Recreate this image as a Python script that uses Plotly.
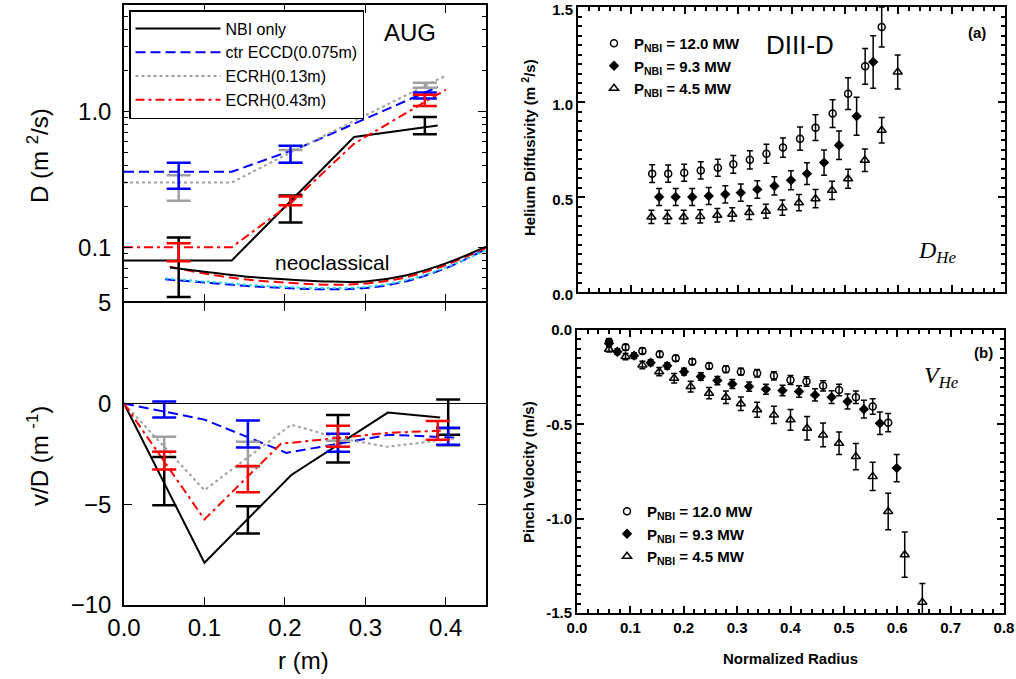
import plotly.graph_objects as go
import numpy as np

W, H = 1016, 679

# ---------------- AUG: D profiles (top-left, log axis) ----------------
nbi_r = [0.0, 0.134, 0.286, 0.39]
nbi_D = [0.08, 0.08, 0.65, 0.79]
eccd_r = [0.0, 0.134, 0.221, 0.39]
eccd_D = [0.36, 0.36, 0.55, 1.52]
ecrh13_r = [0.0, 0.134, 0.221, 0.40]
ecrh13_D = [0.30, 0.30, 0.55, 1.84]
ecrh43_r = [0.0, 0.134, 0.207, 0.286, 0.40]
ecrh43_D = [0.10, 0.10, 0.21, 0.58, 1.45]

# error bars on D (lower / upper bounds)
errD_r = [0.068, 0.207, 0.374]
nbi_Dlo = [0.043, 0.152, 0.68]
nbi_Dhi = [0.118, 0.241, 0.91]
eccd_Dlo = [0.27, 0.42, 1.25]
eccd_Dhi = [0.42, 0.56, 1.38]
ecrh13_Dlo = [0.22, 0.42, 1.50]
ecrh13_Dhi = [0.34, 0.52, 1.63]
ecrh43_Dlo = [0.079, 0.204, 1.10]
ecrh43_Dhi = [0.107, 0.237, 1.33]

# neoclassical D
neo_r1 = [0.057, 0.1, 0.15, 0.2, 0.25, 0.3, 0.35, 0.4, 0.45]
neo_r2 = [0.051, 0.1, 0.15, 0.2, 0.25, 0.3, 0.35, 0.4, 0.45]
neo_black = [0.071, 0.066, 0.061, 0.058, 0.056, 0.056, 0.062, 0.076, 0.101]
neo_red = [0.072, 0.064, 0.058, 0.055, 0.053, 0.054, 0.060, 0.074, 0.099]
neo_blue = [0.058, 0.055, 0.052, 0.050, 0.049, 0.050, 0.056, 0.070, 0.097]
neo_cyan = [0.059, 0.056, 0.053, 0.051, 0.050, 0.051, 0.057, 0.071, 0.095]

# ---------------- AUG: v/D profiles (bottom-left) ----------------
nbi_vr = [0.0, 0.1, 0.208, 0.328, 0.393]
nbi_v = [0.0, -7.9, -3.55, -0.45, -0.7]
eccd_vr = [0.0, 0.1, 0.202, 0.265, 0.33, 0.415]
eccd_v = [0.0, -0.8, -2.45, -2.0, -1.55, -1.7]
ecrh13_vr = [0.0, 0.1, 0.208, 0.265, 0.327, 0.41]
ecrh13_v = [0.0, -4.3, -1.05, -1.7, -2.15, -1.75]
ecrh43_vr = [0.0, 0.1, 0.195, 0.33, 0.395]
ecrh43_v = [0.0, -5.75, -2.0, -1.45, -1.35]

errv_r = [0.05, 0.154, 0.266, 0.403]
errv_r_red = [0.05, 0.154, 0.266, 0.39]
nbi_vlo = [-5.05, -6.45, -2.93, -1.55]
nbi_vhi = [-2.65, -5.1, -0.57, 0.2]
eccd_vlo = [-0.7, -2.18, -2.4, -2.05]
eccd_vhi = [0.1, -0.84, -1.5, -1.2]
ecrh13_vlo = [-2.4, -3.15, -2.15, -2.1]
ecrh13_vhi = [-1.65, -1.9, -1.85, -1.25]
ecrh43_vlo = [-3.27, -4.4, -2.15, -1.8]
ecrh43_vhi = [-2.4, -3.1, -1.1, -0.87]

# ---------------- DIII-D: helium diffusivity (top-right) ----------------
d12_x = [0.139, 0.169, 0.199, 0.230, 0.262, 0.291, 0.322, 0.353, 0.384, 0.416, 0.445, 0.477, 0.506, 0.538, 0.569]
d12_y = [0.623, 0.623, 0.628, 0.640, 0.654, 0.672, 0.696, 0.728, 0.760, 0.807, 0.865, 0.939, 1.044, 1.188, 1.395]
d12_e = [0.047, 0.045, 0.045, 0.045, 0.045, 0.047, 0.048, 0.05, 0.051, 0.061, 0.068, 0.073, 0.084, 0.094, 0.105]
d93_x = [0.152, 0.183, 0.214, 0.245, 0.276, 0.305, 0.336, 0.368, 0.399, 0.429, 0.461, 0.489, 0.522, 0.553]
d93_y = [0.50, 0.50, 0.50, 0.505, 0.514, 0.523, 0.540, 0.558, 0.588, 0.623, 0.681, 0.772, 0.925, 1.211]
d93_e = [0.045, 0.045, 0.045, 0.045, 0.045, 0.045, 0.046, 0.048, 0.05, 0.057, 0.066, 0.075, 0.1, 0.138]
d45_x = [0.1375, 0.1675, 0.198, 0.229, 0.261, 0.289, 0.321, 0.352, 0.383, 0.414, 0.445, 0.476, 0.506, 0.5375, 0.569, 0.599]
d45_y = [0.395, 0.395, 0.395, 0.398, 0.404, 0.409, 0.418, 0.425, 0.444, 0.470, 0.491, 0.535, 0.596, 0.693, 0.851, 1.158]
d45_e = [0.035, 0.035, 0.035, 0.035, 0.035, 0.035, 0.036, 0.037, 0.04, 0.043, 0.048, 0.048, 0.05, 0.059, 0.067, 0.09]

# ---------------- DIII-D: pinch velocity (bottom-right) ----------------
v12_x = [0.06, 0.091, 0.1225, 0.155, 0.185, 0.216, 0.2475, 0.279, 0.307, 0.3375, 0.369, 0.40, 0.43, 0.461, 0.491, 0.5225, 0.554, 0.583]
v12_y = [-0.062, -0.092, -0.111, -0.129, -0.150, -0.168, -0.191, -0.208, -0.221, -0.229, -0.243, -0.265, -0.273, -0.296, -0.318, -0.356, -0.406, -0.491]
v12_e = [0.015, 0.015, 0.015, 0.015, 0.015, 0.015, 0.015, 0.017, 0.018, 0.02, 0.022, 0.024, 0.025, 0.027, 0.03, 0.033, 0.041, 0.048]
v93_x = [0.06, 0.0756, 0.107, 0.138, 0.169, 0.2006, 0.232, 0.263, 0.291, 0.3225, 0.354, 0.385, 0.416, 0.446, 0.477, 0.5069, 0.5375, 0.5675, 0.599]
v93_y = [-0.071, -0.115, -0.136, -0.173, -0.190, -0.221, -0.247, -0.268, -0.286, -0.300, -0.314, -0.321, -0.326, -0.344, -0.356, -0.379, -0.420, -0.494, -0.732]
v93_e = [0.015, 0.015, 0.015, 0.015, 0.017, 0.018, 0.02, 0.022, 0.024, 0.025, 0.027, 0.028, 0.03, 0.032, 0.034, 0.04, 0.047, 0.06, 0.072]
v45_x = [0.06, 0.091, 0.1225, 0.154, 0.182, 0.213, 0.2475, 0.279, 0.307, 0.3375, 0.369, 0.40, 0.431, 0.461, 0.491, 0.5225, 0.554, 0.583, 0.614, 0.647]
v45_y = [-0.102, -0.141, -0.185, -0.221, -0.256, -0.300, -0.335, -0.356, -0.391, -0.423, -0.450, -0.476, -0.521, -0.556, -0.600, -0.671, -0.776, -0.962, -1.191, -1.443]
v45_e = [0.015, 0.017, 0.02, 0.022, 0.025, 0.028, 0.03, 0.033, 0.036, 0.04, 0.046, 0.055, 0.062, 0.063, 0.06, 0.07, 0.075, 0.097, 0.12, 0.1]

legend_names_aug = ["NBI only", "ctr ECCD(0.075m)", "ECRH(0.13m)", "ECRH(0.43m)"]
legend_names_d3d = ["P<sub>NBI</sub> = 12.0 MW", "P<sub>NBI</sub> = 9.3 MW", "P<sub>NBI</sub> = 4.5 MW"]

BLACK, BLUE, GRAY, RED, CYAN = "#000000", "#0000ff", "#a0a0a0", "#ff0000", "#22dde8"
DASH_B = "10px,5px"
DOT_G = "3px,3px"
DASHDOT_R = "9px,4px,3px,4px"

fig = go.Figure()

# ---- neoclassical
for r, d, c, dash in [(neo_r2, neo_blue, BLUE, DASH_B), (neo_r2, neo_cyan, CYAN, DOT_G),
                      (neo_r1, neo_red, RED, DASH_B), (neo_r1, neo_black, BLACK, "solid")]:
    fig.add_trace(go.Scatter(x=r, y=d, mode="lines", line=dict(color=c, width=2, dash=dash, shape="spline"),
                             showlegend=False, xaxis="x", yaxis="y", hoverinfo="skip"))

# ---- D curves (legend)
curves_D = [(nbi_r, nbi_D, BLACK, "solid"), (eccd_r, eccd_D, BLUE, DASH_B),
            (ecrh13_r, ecrh13_D, GRAY, DOT_G), (ecrh43_r, ecrh43_D, RED, DASHDOT_R)]
for (r, d, c, dash), nm in zip(curves_D, legend_names_aug):
    fig.add_trace(go.Scatter(x=r, y=d, mode="lines", name=nm, line=dict(color=c, width=2, dash=dash),
                             xaxis="x", yaxis="y", legend="legend"))

# ---- D error bars
for lo, hi, c in [(nbi_Dlo, nbi_Dhi, BLACK), (ecrh13_Dlo, ecrh13_Dhi, GRAY),
                  (eccd_Dlo, eccd_Dhi, BLUE), (ecrh43_Dlo, ecrh43_Dhi, RED)]:
    ctr = [np.sqrt(a * b) for a, b in zip(lo, hi)]
    fig.add_trace(go.Scatter(x=errD_r, y=ctr, mode="markers", marker=dict(size=1, color=c, opacity=0),
                             error_y=dict(type="data", symmetric=False,
                                          array=[h - m for h, m in zip(hi, ctr)],
                                          arrayminus=[m - l for l, m in zip(lo, ctr)],
                                          color=c, thickness=2.5, width=12),
                             showlegend=False, xaxis="x", yaxis="y", hoverinfo="skip"))

# ---- v/D curves
for r, v, c, dash in [(nbi_vr, nbi_v, BLACK, "solid"), (eccd_vr, eccd_v, BLUE, DASH_B),
                      (ecrh13_vr, ecrh13_v, GRAY, DOT_G), (ecrh43_vr, ecrh43_v, RED, DASHDOT_R)]:
    fig.add_trace(go.Scatter(x=r, y=v, mode="lines", line=dict(color=c, width=2, dash=dash),
                             showlegend=False, xaxis="x2", yaxis="y2"))

for rr, lo, hi, c in [(errv_r, nbi_vlo, nbi_vhi, BLACK), (errv_r, ecrh13_vlo, ecrh13_vhi, GRAY),
                      (errv_r, eccd_vlo, eccd_vhi, BLUE), (errv_r_red, ecrh43_vlo, ecrh43_vhi, RED)]:
    ctr = [(a + b) / 2 for a, b in zip(lo, hi)]
    fig.add_trace(go.Scatter(x=rr, y=ctr, mode="markers", marker=dict(size=1, color=c, opacity=0),
                             error_y=dict(type="data", symmetric=False,
                                          array=[h - m for h, m in zip(hi, ctr)],
                                          arrayminus=[m - l for l, m in zip(lo, ctr)],
                                          color=c, thickness=2.5, width=12),
                             showlegend=False, xaxis="x2", yaxis="y2", hoverinfo="skip"))

# ---- DIII-D
sym = [dict(symbol="circle-open", size=7, color=BLACK, line=dict(width=1.5, color=BLACK)),
       dict(symbol="diamond", size=8, color=BLACK),
       dict(symbol="triangle-up-open", size=8, color=BLACK, line=dict(width=1.5, color=BLACK))]
for (x, y, e), m, nm in zip([(d12_x, d12_y, d12_e), (d93_x, d93_y, d93_e), (d45_x, d45_y, d45_e)], sym, legend_names_d3d):
    fig.add_trace(go.Scatter(x=x, y=y, mode="markers", marker=m, name=nm,
                             error_y=dict(type="data", array=e, color=BLACK, thickness=1.5, width=3),
                             xaxis="x3", yaxis="y3", legend="legend2"))
for (x, y, e), m, nm in zip([(v12_x, v12_y, v12_e), (v93_x, v93_y, v93_e), (v45_x, v45_y, v45_e)], sym, legend_names_d3d):
    fig.add_trace(go.Scatter(x=x, y=y, mode="markers", marker=m, name=nm,
                             error_y=dict(type="data", array=e, color=BLACK, thickness=1.5, width=3),
                             xaxis="x4", yaxis="y4", legend="legend3"))

LFONT = dict(family="Liberation Sans, Arial", size=24, color="black")
RFONT = dict(family="Liberation Sans, Arial", size=15, color="black", weight="bold")
LEGR = dict(family="Liberation Sans, Arial", size=15, color="black", weight="bold")

def xd(a, b):
    return [a / W, b / W]

def yd(top, bot):
    return [1 - bot / H, 1 - top / H]

left_common = dict(showline=True, linecolor="black", linewidth=1.5, mirror="ticks", ticks="inside",
                   ticklen=8, tickwidth=1, tickcolor="black", showgrid=False, zeroline=False,
                   tickfont=LFONT, automargin=False, ticklabeloverflow="allow")
right_common = dict(showline=True, linecolor="black", linewidth=2, mirror="ticks", ticks="inside",
                    ticklen=7, tickwidth=1.5, tickcolor="black", showgrid=False, zeroline=False,
                    tickfont=RFONT, automargin=False, ticklabeloverflow="allow")

minor_log = [0.05, 0.06, 0.07, 0.08, 0.09, 0.2, 0.3, 0.4, 0.5, 0.6, 0.7, 0.8, 0.9, 2, 3, 4, 5, 6]

fig.update_layout(
    template="none",
    width=W, height=H, autosize=False, margin=dict(l=0, r=0, t=0, b=0),
    plot_bgcolor="white", paper_bgcolor="white",
    xaxis=dict(domain=xd(124, 486), range=[0, 0.45], anchor="y", tickvals=[0.1, 0.2, 0.3, 0.4],
               showticklabels=False, **left_common),
    yaxis=dict(domain=yd(5, 301.25), type="log", range=[np.log10(0.04), np.log10(6.1)], anchor="x",
               tickvals=[0.1, 1.0], ticktext=["0.1", "1.0"], ticklabelstandoff=6,
               minor=dict(tickvals=minor_log, ticks="inside", ticklen=4, tickcolor="black"),
               **left_common),
    xaxis2=dict(domain=xd(124, 486), range=[0, 0.45], anchor="y2", tickvals=[0, 0.1, 0.2, 0.3, 0.4],
                ticktext=["0.0", "0.1", "0.2", "0.3", "0.4"], **left_common),
    yaxis2=dict(domain=yd(302.75, 605), range=[-10, 5], anchor="x2", tickvals=[-10, -5, 0, 5],
                ticklabelstandoff=6,
                **{k: v for k, v in left_common.items() if k != "zeroline"},
                zeroline=True, zerolinecolor="black", zerolinewidth=1),
    xaxis3=dict(domain=xd(578, 1005), range=[0, 0.8], anchor="y3", dtick=0.1, showticklabels=False,
                minor=dict(dtick=0.02, ticks="inside", ticklen=4, tickcolor="black"), **right_common),
    yaxis3=dict(domain=yd(7, 292), range=[0, 1.5], anchor="x3", tickvals=[0, 0.5, 1.0, 1.5],
                ticktext=["0.0", "0.5", "1.0", "1.5"], ticklabelshift=3,
                minor=dict(dtick=0.05, ticks="inside", ticklen=4, tickcolor="black"), **right_common),
    xaxis4=dict(domain=xd(577, 1004), range=[0, 0.8], anchor="y4", dtick=0.1, tickformat=".1f",
                minor=dict(dtick=0.02, ticks="inside", ticklen=4, tickcolor="black"), **right_common),
    yaxis4=dict(domain=yd(330, 613), range=[-1.5, 0], anchor="x4", tickvals=[-1.5, -1.0, -0.5, 0],
                ticktext=["-1.5", "-1.0", "-0.5", "0.0"],
                minor=dict(dtick=0.05, ticks="inside", ticklen=4, tickcolor="black"), **right_common),
    legend=dict(x=129 / W, y=1 - 10 / H, xanchor="left", yanchor="top", bordercolor="black",
                borderwidth=1.5, bgcolor="white", font=dict(family="Liberation Sans, Arial", size=16, color="black"),
                tracegroupgap=0, itemwidth=85),
    legend2=dict(x=594 / W, y=1 - 27 / H, xanchor="left", yanchor="top", bgcolor="rgba(0,0,0,0)",
                 font=LEGR, tracegroupgap=0),
    legend3=dict(x=607 / W, y=1 - 495 / H, xanchor="left", yanchor="top", bgcolor="rgba(0,0,0,0)",
                 font=LEGR, tracegroupgap=0),
    showlegend=True,
)

ann = [
    dict(x=410, y=32, text="AUG", font=dict(family="Liberation Sans, Arial", size=24, color="black")),
    dict(x=332, y=263, text="neoclassical", font=dict(family="Liberation Sans, Arial", size=21, color="black")),
    dict(x=800, y=45, text="DIII-D", font=dict(family="Liberation Sans, Arial", size=26, color="black")),
    dict(x=977, y=32, text="(a)", font=RFONT),
    dict(x=983, y=352, text="(b)", font=RFONT),
    dict(x=937, y=252, text="<i>D<sub>He</sub></i>", font=dict(family="Liberation Serif, Times New Roman", size=24, color="black")),
    dict(x=941, y=377, text="<i>V<sub>He</sub></i>", font=dict(family="Liberation Serif, Times New Roman", size=24, color="black")),
    dict(x=38, y=156, text="D (m <sup>2</sup>/s)", textangle=-90, font=LFONT),
    dict(x=38, y=456, text="v/D (m <sup>-1</sup>)", textangle=-90, font=LFONT),
    dict(x=303, y=660, text="r (m)", font=LFONT),
    dict(x=528, y=148, text="Helium Diffusivity (m <sup>2</sup>/s)", textangle=-90, font=dict(RFONT, size=15)),
    dict(x=528, y=472, text="Pinch Velocity (m/s)", textangle=-90, font=dict(RFONT, size=15)),
    dict(x=790, y=658, text="Normalized Radius", font=dict(RFONT, size=15)),
]
for a in ann:
    a2 = dict(a)
    a2["x"] = a["x"] / W
    a2["y"] = 1 - a["y"] / H
    a2.update(xref="paper", yref="paper", showarrow=False, xanchor="center", yanchor="middle")
    fig.add_annotation(**a2)

fig.write_html("out.html", config={"displayModeBar": False},
               post_script="document.body.style.margin='0';document.body.style.overflow='hidden';")
